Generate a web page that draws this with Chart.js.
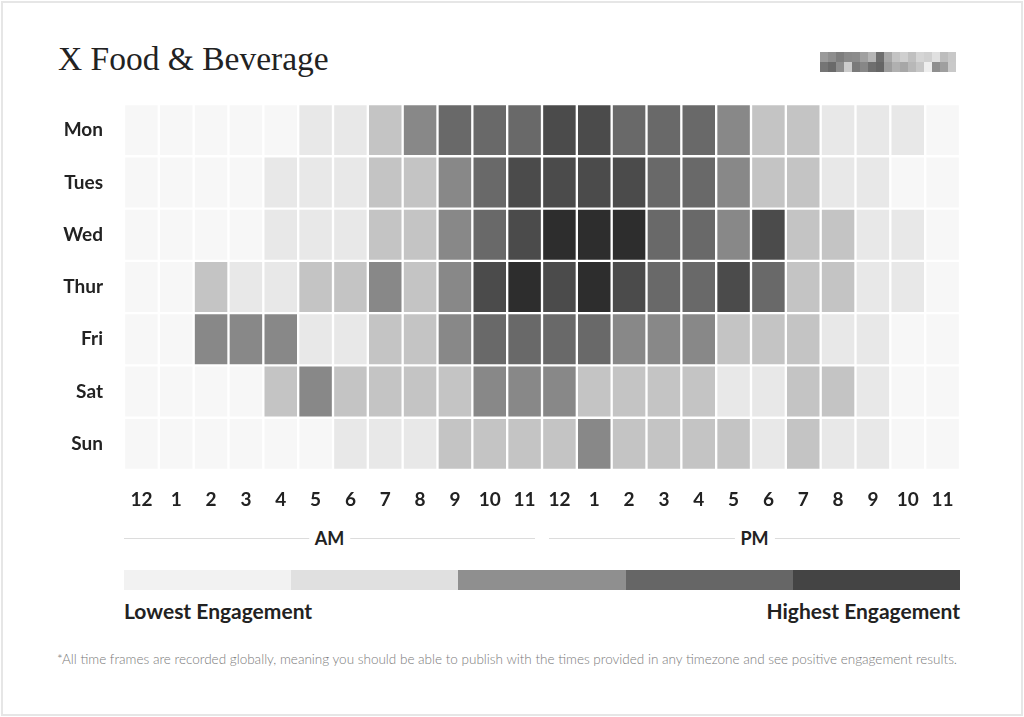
<!DOCTYPE html>
<html>
<head>
<meta charset="utf-8">
<script src="https://cdn.jsdelivr.net/npm/chart.js@4.4.1/dist/chart.umd.min.js"></script>
<style>
  html, body { margin: 0; padding: 0; background: #fff; }
  body { width: 1024px; height: 717px; position: relative; overflow: hidden; font-family: Lato, "Open Sans", sans-serif; }
  .frame { position: absolute; left: 1px; top: 1px; width: 1018px; height: 711px; border: 2px solid #e6e6e6; }
  .title { position: absolute; left: 58px; top: 40px; font-family: "Liberation Serif", "DejaVu Serif", serif; font-size: 33.5px; color: #222; }
  .logo { position: absolute; left: 820px; top: 52px; display: grid; grid-template-columns: repeat(17, 8px); grid-auto-rows: 10px; }
  #heat { position: absolute; left: 0; top: 96px; }
  .period { position: absolute; top: 527px; height: 22px; }
  .period .line { position: absolute; top: 11px; left: 0; right: 0; border-top: 1px solid #dcdcdc; }
  .period span { position: absolute; top: 0; left: 50%; transform: translateX(-50%); background: #fff; padding: 0 6px; font-weight: 700; font-size: 18px; color: #222; line-height: 22px; }
  .scale { position: absolute; left: 124px; top: 570px; width: 836px; height: 20px; display: flex; }
  .scale div { flex: 1; }
  .lab { position: absolute; top: 598px; font-weight: 700; font-size: 21px; color: #222; }
  .note { position: absolute; left: 57px; top: 651px; font-size: 13.5px; color: #7a7a7a; font-weight: 300; }
</style>
</head>
<body>
<div class="frame"></div>
<div class="title">X Food &amp; Beverage</div>
<div class="logo" id="logo"></div>
<canvas id="heat" width="1024" height="420"></canvas>
<div class="period" style="left:124px;width:411px;"><div class="line"></div><span>AM</span></div>
<div class="period" style="left:549px;width:411px;"><div class="line"></div><span>PM</span></div>
<div class="scale" id="scale"></div>
<div class="lab" style="left:124px;">Lowest Engagement</div>
<div class="lab" style="right:64px;">Highest Engagement</div>
<div class="note">*All time frames are recorded globally, meaning you should be able to publish with the times provided in any timezone and see positive engagement results.</div>

<script>
// 시간 라벨 (12 AM ~ 11 PM)
const hours = ['12', '1', '2', '3', '4', '5', '6', '7', '8', '9', '10', '11',
               '12', '1', '2', '3', '4', '5', '6', '7', '8', '9', '10', '11'];
const days = ['Mon', 'Tues', 'Wed', 'Thur', 'Fri', 'Sat', 'Sun'];

// 참여도 단계 (0 = 가장 낮음, 6 = 가장 높음)
const monday    = [0, 0, 0, 0, 0, 1, 1, 2, 3, 4, 4, 4, 5, 5, 4, 4, 4, 3, 2, 2, 1, 1, 1, 0];
const tuesday   = [0, 0, 0, 0, 1, 1, 1, 2, 2, 3, 4, 5, 5, 5, 5, 4, 4, 3, 2, 2, 1, 1, 0, 0];
const wednesday = [0, 0, 0, 0, 1, 1, 1, 2, 2, 3, 4, 5, 6, 6, 6, 4, 4, 3, 5, 2, 2, 1, 1, 0];
const thursday  = [0, 0, 2, 1, 1, 2, 2, 3, 2, 3, 5, 6, 5, 6, 5, 4, 4, 5, 4, 2, 2, 1, 1, 0];
const friday    = [0, 0, 3, 3, 3, 1, 1, 2, 2, 3, 4, 4, 4, 4, 3, 3, 3, 2, 2, 2, 1, 1, 0, 0];
const saturday  = [0, 0, 0, 0, 2, 3, 2, 2, 2, 2, 3, 3, 3, 2, 2, 2, 2, 1, 1, 2, 2, 1, 0, 0];
const sunday    = [0, 0, 0, 0, 0, 0, 1, 1, 1, 2, 2, 2, 2, 3, 2, 2, 2, 2, 1, 2, 1, 1, 0, 0];
const levels = [monday, tuesday, wednesday, thursday, friday, saturday, sunday];

// 셀 색상 / 범례 색상
const shades = ['#f7f7f7', '#e8e8e8', '#c4c4c4', '#888888', '#696969', '#4b4b4b', '#2d2d2d'];
const scaleColors = ['#f2f2f2', '#e0e0e0', '#8f8f8f', '#666666', '#444444'];

// 흐릿한 로고 블록
const logoTones = ['#9a9a9a', '#8e8e8e', '#7e7e7e', '#8a8a8a', '#8c8c8c', '#a0a0a0', '#b5b5b5', '#6e6e6e', '#a8a8a8', '#c3c3c3', '#cfcfcf', '#c0c0c0', '#d5d5d5', '#d0d0d0', '#e0e0e0', '#bdbdbd', '#c8c8c8',
                   '#757575', '#6a6a6a', '#8d8d8d', '#cccccc', '#7a7a7a', '#878787', '#6f6f6f', '#666666', '#9d9d9d', '#b0b0b0', '#a7a7a7', '#b8b8b8', '#c6c6c6', '#eeeeee', '#8f8f8f', '#9f9f9f', '#c9c9c9'];
const logo = document.getElementById('logo');
logoTones.forEach(c => {
    const d = document.createElement('div');
    d.style.background = c;
    logo.appendChild(d);
});

const scaleEl = document.getElementById('scale');
scaleColors.forEach(c => {
    const d = document.createElement('div');
    d.style.background = c;
    scaleEl.appendChild(d);
});

const tickFont = { family: 'Lato, "Open Sans", sans-serif', size: 19, weight: 'bold' };

new Chart(document.getElementById('heat').getContext('2d'), {
    type: 'bar',
    data: {
        labels: hours,
        datasets: days.map((day, i) => ({
            label: day,
            data: levels[i].map(() => 1),
            backgroundColor: levels[i].map(l => shades[l]),
            borderColor: '#ffffff',
            borderWidth: 1.5,
            borderSkipped: false,
            barPercentage: 1,
            categoryPercentage: 1
        }))
    },
    options: {
        responsive: false,
        animation: false,
        layout: { padding: { top: 8, right: 64, left: 0, bottom: 0 } },
        plugins: { legend: { display: false }, tooltip: { enabled: false } },
        scales: {
            x: {
                stacked: true,
                grid: { display: false, drawTicks: false },
                border: { display: false },
                ticks: { color: '#222', font: tickFont, padding: 18, maxRotation: 0, autoSkip: false },
                afterFit: s => { s.height = 46; s.paddingLeft = 0; s.paddingRight = 0; }
            },
            y: {
                stacked: true,
                reverse: true,
                min: 0,
                max: 7,
                grid: { display: false, drawTicks: false },
                border: { display: false },
                afterBuildTicks: s => { s.ticks = days.map((d, i) => ({ value: i + 0.5 })); },
                ticks: {
                    color: '#222',
                    font: tickFont,
                    padding: 21,
                    callback: v => days[Math.floor(v)]
                },
                afterFit: s => { s.width = 124; s.paddingTop = 0; s.paddingBottom = 0; }
            }
        }
    }
});
</script>
</body>
</html>
